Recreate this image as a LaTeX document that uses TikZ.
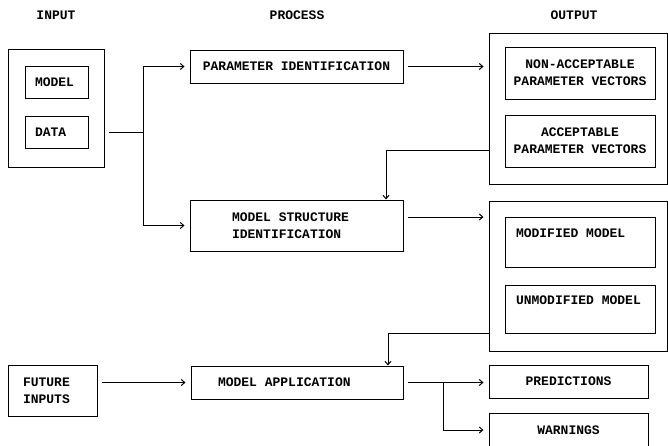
\documentclass[tikz,border=0pt]{standalone}
\usepackage{fontspec}
\newfontfamily\plotfont{Liberation Mono}
\newcommand\plotsetup{\plotfont\bfseries\fontsize{13}{17}\selectfont}
% fixed word gap of one character cell
\newcommand\gap{\hspace*{7.8pt}}
\usetikzlibrary{arrows.meta}
\begin{document}
\begin{tikzpicture}[x=1pt,y=-1pt,
  every node/.style={font=\plotsetup},
  box/.style={draw, line width=1pt, inner sep=0pt},
  tbox/.style={box, align=left, inner xsep=#1},
  head/.style={inner sep=0pt},
  flow/.style={line width=1pt, -{Straight Barb[length=3.5pt,width=6pt]}, shorten >=5pt, shorten <=4pt},
  feed/.style={line width=1pt, -{Straight Barb[length=3.5pt,width=6pt]}},
  link/.style={line width=1pt}]
\useasboundingbox (0,0) rectangle (668,445);
\clip (0,0) rectangle (668,445);

% column headings
\node[head] (hin)  at (56,15)  {INPUT};
\node[head] (hpro) at (297,15) {PROCESS};
\node[head] (hout) at (574,15) {OUTPUT};

% input column
\node[box, minimum width=96pt, minimum height=118pt] (inbox) at (56,108) {};
\node[tbox=10pt, text width=43pt, minimum height=32pt] (model) at (56.5,82) {MODEL};
\node[tbox=10pt, text width=43pt, minimum height=32pt] (data) at (56.5,132) {DATA};
\node[tbox=15pt, text width=59pt, minimum height=51pt] (future) at (52.5,390.5) {FUTURE\\INPUTS};

% process column
\node[box, minimum width=213pt, minimum height=33pt] (param) at (296.5,66.5) {PARAMETER\gap IDENTIFICATION};
\node[tbox=42pt, text width=129pt, minimum height=51pt] (msi) at (296.5,225.5) {MODEL\gap STRUCTURE\\IDENTIFICATION};
\node[tbox=27pt, text width=158pt, minimum height=33pt] (appl) at (297,382.5) {MODEL\gap APPLICATION};

% output column
\node[box, minimum width=178pt, minimum height=151pt] (out1) at (578,108.5) {};
\node[box, align=center, minimum width=150pt, minimum height=52pt] (nonacc) at (580,73) {NON-ACCEPTABLE\\PARAMETER\gap VECTORS};
\node[box, align=center, minimum width=150pt, minimum height=52pt] (acc) at (580,141) {ACCEPTABLE\\PARAMETER\gap VECTORS};
\node[box, minimum width=178pt, minimum height=150pt] (out2) at (578,276) {};
\node[tbox=11pt, text width=128pt, minimum height=50pt] (modif) at (580,242) {MODIFIED\gap MODEL\\~};
\node[tbox=11pt, text width=128pt, minimum height=48pt] (unmod) at (580,309) {UNMODIFIED\gap MODEL\\~};
\node[box, minimum width=159pt, minimum height=33pt] (pred) at (568.5,381.5) {PREDICTIONS};
\node[box, minimum width=159pt, minimum height=33pt] (warn) at (568.5,430) {WARNINGS};

% input data split to both identification steps
\coordinate (split) at (143,132);
\draw[link, shorten <=4pt] (data.east -| inbox.east) -- (split);
\draw[flow, shorten <=0pt] (split) |- (param.west);
\draw[flow, shorten <=0pt] (split) |- (msi.west);

% process results
\draw[flow] (param.east) -- (param.east -| out1.west);
\draw[flow] ([yshift=8.5pt]msi.east) -- ([yshift=8.5pt]msi.east -| out2.west);
\draw[flow] (appl.west -| future.east) -- (appl.west);
\draw[flow] (appl.east) -- (appl.east -| pred.west);
\coordinate (branch) at (443,382.5);
\draw[flow, shorten <=0pt] (branch) |- (warn.west);

% feedback loops
\draw[feed] ([yshift=-9pt]acc.center -| out1.west) -| ([xshift=89.5pt]msi.north);
\draw[feed] (unmod.south -| out2.west) -| ([xshift=91pt]appl.north);
\end{tikzpicture}
\end{document}
